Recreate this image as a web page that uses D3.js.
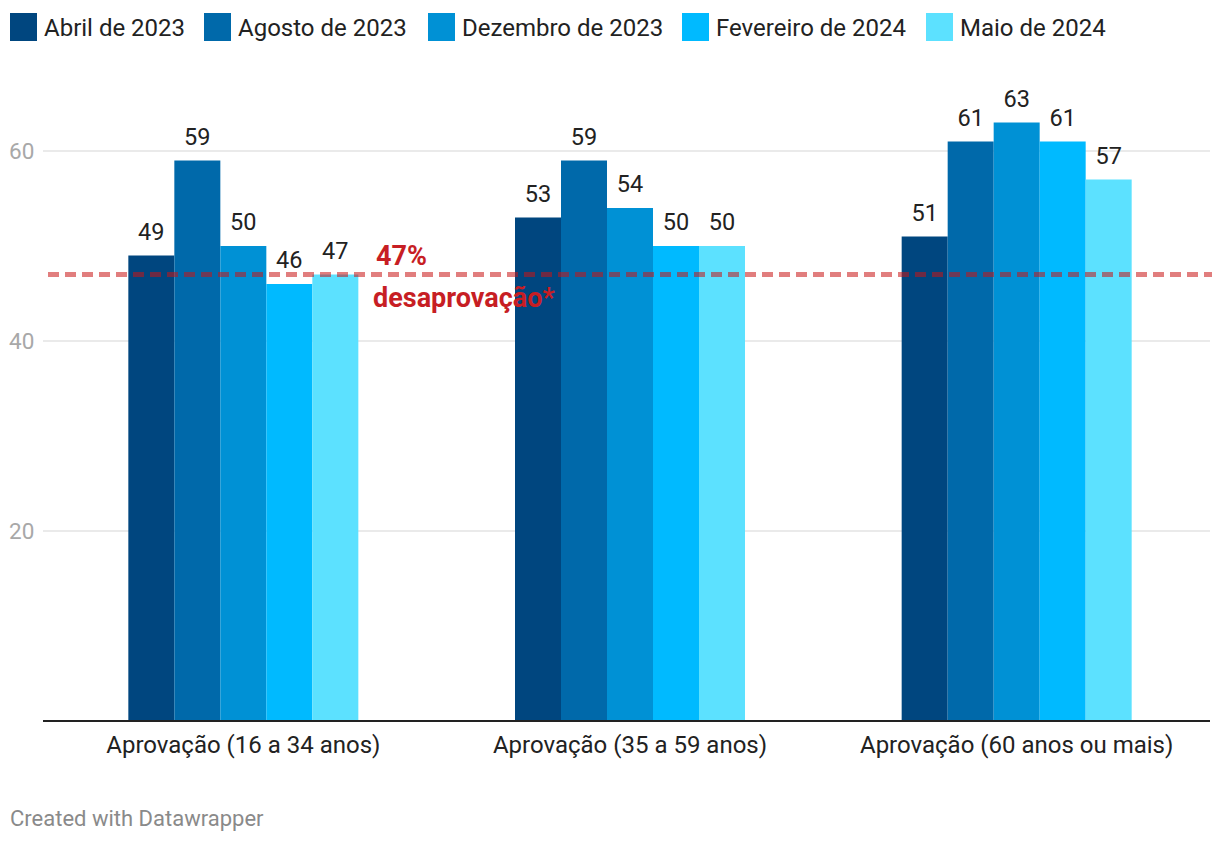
<!DOCTYPE html>
<html><head><meta charset="utf-8">
<script src="https://cdn.jsdelivr.net/npm/d3@7"></script>
<style>body{margin:0;background:#fff;font-family:Roboto,sans-serif}</style>
</head><body><svg id="c" width="1220" height="844"></svg>
<script>
const categories = ["Aprovação (16 a 34 anos)", "Aprovação (35 a 59 anos)", "Aprovação (60 anos ou mais)"];
const seriesNames = ["Abril de 2023", "Agosto de 2023", "Dezembro de 2023", "Fevereiro de 2024", "Maio de 2024"];
const abril2023 = [49, 53, 51];
const agosto2023 = [59, 59, 61];
const dezembro2023 = [50, 54, 63];
const fevereiro2024 = [46, 50, 61];
const maio2024 = [47, 50, 57];
const colors = ["#00467f", "#0069aa", "#0091d5", "#00baff", "#5ce1ff"];
const yTicks = [20, 40, 60];
const refValue = 47;
const refLabel = ["47%", "desaprovação*"];

const series = [abril2023, agosto2023, dezembro2023, fevereiro2024, maio2024];
const svg = d3.select("#c");

const y = d3.scaleLinear().domain([0, 60]).range([721, 151]);
const x0 = d3.scaleBand().domain(categories).range([50, 1210]).paddingInner(0).paddingOuter(0);
const bw = 230;
const x1 = d3.scaleBand().domain(seriesNames).range([0, bw]);

// gridlines
svg.append("g").selectAll("line").data(yTicks).join("line")
  .attr("x1", 43).attr("x2", 1210).attr("y1", d => y(d)).attr("y2", d => y(d))
  .attr("stroke", "#e3e3e3").attr("stroke-width", 1.5);
svg.append("g").selectAll("text").data(yTicks).join("text")
  .attr("x", 9).attr("y", d => y(d)).attr("dy", "0.36em")
  .attr("fill", "#a8a8a8").attr("font-size", 22.5).text(d => d);

// bars
const g = svg.append("g");
categories.forEach((c, ci) => {
  const gx = x0(c) + x0.bandwidth() / 2 - bw / 2;
  seriesNames.forEach((s, si) => {
    const v = series[si][ci];
    g.append("rect").attr("x", gx + x1(s)).attr("width", x1.bandwidth())
      .attr("y", y(v)).attr("height", y(0) - y(v)).attr("fill", colors[si]);
    g.append("text").attr("x", gx + x1(s) + x1.bandwidth() / 2).attr("y", y(v) - 16)
      .attr("text-anchor", "middle").attr("font-size", 23.5).attr("fill", "#222").text(v);
  });
});

// baseline
svg.append("line").attr("x1", 43).attr("x2", 1210).attr("y1", y(0)).attr("y2", y(0))
  .attr("stroke", "#222").attr("stroke-width", 2);

// category labels
svg.append("g").selectAll("text").data(categories).join("text")
  .attr("x", d => x0(d) + x0.bandwidth() / 2).attr("y", 753)
  .attr("text-anchor", "middle").attr("font-size", 24).attr("fill", "#222").text(d => d);

// reference line
svg.append("line").attr("x1", 48).attr("x2", 1212).attr("y1", y(refValue)).attr("y2", y(refValue))
  .attr("stroke", "rgba(200,20,20,0.55)").attr("stroke-width", 5).attr("stroke-dasharray", "11,6");
svg.append("text").attr("x", 376).attr("y", 265).attr("font-size", 27).attr("font-weight", "bold")
  .attr("fill", "#c71e24").text(refLabel[0]);
svg.append("text").attr("x", 373).attr("y", 307).attr("font-size", 27).attr("font-weight", "bold")
  .attr("fill", "#c71e24").text(refLabel[1]);

// legend
const legendX = [10, 204, 428, 682, 926];
const lg = svg.append("g");
seriesNames.forEach((s, i) => {
  lg.append("rect").attr("x", legendX[i]).attr("y", 13).attr("width", 27).attr("height", 28).attr("fill", colors[i]);
  lg.append("text").attr("x", legendX[i] + 34).attr("y", 27).attr("dy", "0.36em")
    .attr("font-size", 24).attr("fill", "#222").text(s);
});

// footer
svg.append("text").attr("x", 10).attr("y", 826).attr("font-size", 22).attr("fill", "#8a8a8a").text("Created with Datawrapper");
</script></body></html>
